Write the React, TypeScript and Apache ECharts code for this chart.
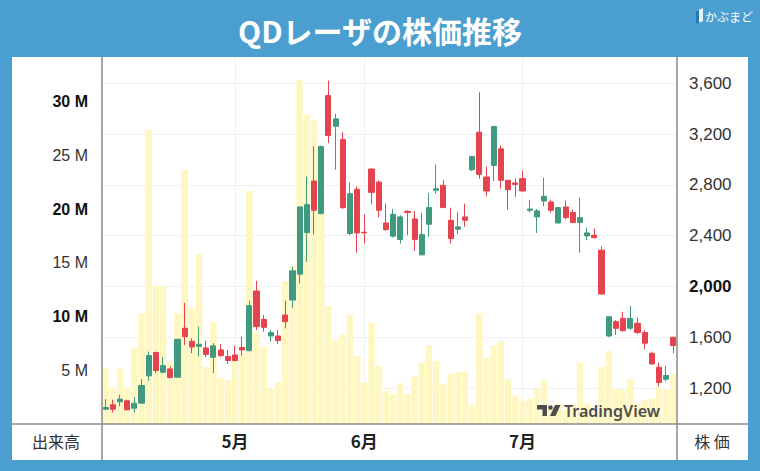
import React, { useEffect, useRef } from "react";
import * as echarts from "echarts";

// Trading days (Apr 6 – Aug 3, 2021)
const dates = [
  "2021-04-06","2021-04-07","2021-04-08","2021-04-09","2021-04-12","2021-04-13","2021-04-14","2021-04-15","2021-04-16","2021-04-19",
  "2021-04-20","2021-04-21","2021-04-22","2021-04-23","2021-04-26","2021-04-27","2021-04-28","2021-04-30",
  "2021-05-06","2021-05-07","2021-05-10","2021-05-11","2021-05-12","2021-05-13","2021-05-14","2021-05-17","2021-05-18","2021-05-19",
  "2021-05-20","2021-05-21","2021-05-24","2021-05-25","2021-05-26","2021-05-27","2021-05-28","2021-05-31",
  "2021-06-01","2021-06-02","2021-06-03","2021-06-04","2021-06-07","2021-06-08","2021-06-09","2021-06-10","2021-06-11","2021-06-14",
  "2021-06-15","2021-06-16","2021-06-17","2021-06-18","2021-06-21","2021-06-22","2021-06-23","2021-06-24","2021-06-25","2021-06-28",
  "2021-06-29","2021-06-30",
  "2021-07-01","2021-07-02","2021-07-05","2021-07-06","2021-07-07","2021-07-08","2021-07-09","2021-07-12","2021-07-13","2021-07-14",
  "2021-07-15","2021-07-16","2021-07-19","2021-07-20","2021-07-21","2021-07-26","2021-07-27","2021-07-28","2021-07-29","2021-07-30",
  "2021-08-02","2021-08-03",
];

const opens = [
  1034,1068,1092,1100,1042,1081,1296,1480,1325,1351,
  1286,1671,1568,1529,1516,1443,1500,1448,1461,1519,
  1495,1964,1741,1610,1610,1775,1893,2097,2424,2830,
  2574,3503,3262,3158,2417,2765,2427,2925,2822,2500,
  2396,2370,2592,2532,2249,2490,2757,2796,2521,2451,
  2548,2919,3215,2862,2953,3084,2836,2815,2849,2600,
  2548,2673,2665,2500,2626,2582,2503,2398,2404,2286,
  1610,1723,1749,1671,1710,1637,1474,1364,1270,1600,
];
const closes = [
  1047,1034,1113,1029,1081,1220,1456,1338,1377,1283,
  1584,1605,1524,1545,1464,1532,1456,1417,1417,1500,
  1849,1684,1678,1637,1574,1723,2123,2626,2644,2600,
  3103,3189,3320,2621,2731,2422,2422,2741,2600,2448,
  2568,2548,2582,2370,2409,2621,2770,2621,2377,2469,
  2521,3024,2883,2752,3260,2836,2762,2804,2752,2610,
  2595,2710,2600,2621,2542,2503,2542,2422,2385,1940,
  1762,1671,1652,1749,1637,1553,1390,1244,1299,1535,
];
const lows = [
  1029,1008,1055,1024,1008,1076,1257,1317,1317,1278,
  1280,1540,1474,1448,1443,1317,1443,1390,1409,1456,
  1487,1657,1644,1566,1547,1671,1833,2024,2194,2409,
  2568,3129,2919,2610,2404,2265,2338,2647,2542,2438,
  2385,2338,2404,2281,2245,2390,2731,2618,2338,2412,
  2469,2909,2849,2710,2830,2770,2605,2705,2748,2584,
  2422,2631,2579,2495,2527,2500,2265,2364,2377,1938,
  1600,1618,1644,1657,1626,1506,1383,1212,1252,1474,
];
const highs = [
  1113,1108,1147,1108,1129,1270,1487,1487,1443,1370,
  1589,1872,1592,1684,1571,1553,1547,1500,1532,1605,
  1888,2045,1775,1657,1657,1888,2155,2630,2867,3103,
  3108,3621,3359,3215,2820,2788,2568,2930,2836,2652,
  2610,2561,2600,2595,2579,2736,2961,2836,2621,2587,
  2652,3028,3529,2945,3263,3110,2840,2849,2914,2679,
  2610,2857,2684,2624,2678,2605,2699,2464,2456,2317,
  1767,1736,1801,1846,1757,1657,1487,1401,1375,1605,
];
// volume in millions of shares
const volumes = [
  5.2,3.4,5.15,3.4,7.1,10.3,27.4,12.9,12.8,5.8,
  10.3,23.7,10.8,15.8,5.3,9.5,4.25,4.1,6.3,6.6,
  21.7,8.5,7.2,3.3,3.9,13.3,14.7,32.0,28.8,28.3,
  19.6,11.0,7.8,8.3,10.2,6.3,3.85,9.4,5.4,3.07,
  2.8,3.8,2.8,4.4,5.7,7.3,5.9,3.7,4.6,4.85,
  4.85,1.8,10.3,6.2,7.3,7.7,4.2,2.65,2.15,2.35,
  3.3,4.1,1.6,1.9,1.3,1.9,5.7,1.9,1.0,5.3,
  6.8,3.25,3.2,4.2,1.9,2.2,2.4,3.4,3.2,4.65,
];

const priceTicks = [1200, 1600, 2000, 2400, 2800, 3200, 3600];
const boldPriceTicks = [2000];
const boldVolumeTicks = [10, 20, 30];
const monthStarts = ["2021-05-06", "2021-06-01", "2021-07-01"];
const monthLabels = ["5月", "6月", "7月"];

const TITLE = "QDレーザの株価推移";
const BRAND = "かぶまど";

const GREEN = "#3f9a7f";
const RED = "#e5434e";
const VOL = "#fff7c2";
const BLUE = "#4a9ed0";
const GRID = "#f0f0f0";
const FRAME = "#8a8a8a";
const WM = "#4d4d4d";
const FONT = '"Liberation Sans", Arial, "Noto Sans CJK JP", sans-serif';
const JFONT = '"Noto Sans CJK JP", sans-serif';

export default function App() {
  const ref = useRef<HTMLDivElement>(null);
  useEffect(() => {
    if (!ref.current) return;
    const chart = echarts.init(ref.current, undefined, { renderer: "svg" });
    const candles = dates.map((_, i) => [opens[i], closes[i], lows[i], highs[i]]);
    const isMonth = (_i: number, v: string) => monthStarts.indexOf(v) >= 0;
    const option: any = {
      animation: false,
      backgroundColor: BLUE,
      grid: { left: 102, right: 83, top: 57, bottom: 47, containLabel: false, outerBoundsMode: "none" },
      xAxis: {
        type: "category",
        data: dates,
        boundaryGap: true,
        axisLine: { show: false },
        axisTick: { show: false },
        axisLabel: {
          interval: isMonth,
          formatter: (v: string) => {
            const k = monthStarts.indexOf(v);
            return k >= 0 ? monthLabels[k] : "";
          },
          fontSize: 17,
          fontWeight: "bold",
          color: "#222",
          fontFamily: JFONT,
          margin: 8,
        },
        splitLine: {
          show: true,
          interval: isMonth,
          alignWithLabel: true,
          lineStyle: { color: GRID, width: 1 },
        },
      },
      yAxis: [
        {
          type: "value",
          position: "left",
          min: 0,
          max: 34.17,
          interval: 5,
          axisLine: { show: false },
          axisTick: { show: false },
          splitLine: { show: false },
          axisLabel: {
            showMinLabel: false,
            showMaxLabel: false,
            margin: 14,
            formatter: (v: number) =>
              boldVolumeTicks.indexOf(v) >= 0 ? `{b|${v} M}` : `{n|${v} M}`,
            rich: {
              b: { fontSize: 16, fontWeight: "bold", color: "#111", fontFamily: FONT },
              n: { fontSize: 16, color: "#333", fontFamily: FONT },
            },
          },
        },
        {
          type: "value",
          position: "right",
          min: 917,
          max: 3807,
          axisLine: { show: false },
          axisTick: { show: false, customValues: priceTicks },
          splitLine: { show: true, lineStyle: { color: GRID, width: 1 } },
          axisLabel: {
            customValues: priceTicks,
            margin: 12,
            formatter: (v: number) => {
              const s = v.toLocaleString("en-US");
              return boldPriceTicks.indexOf(v) >= 0 ? `{b|${s}}` : `{n|${s}}`;
            },
            rich: {
              b: { fontSize: 17, fontWeight: "bold", color: "#111", fontFamily: FONT },
              n: { fontSize: 17, color: "#333", fontFamily: FONT },
            },
          },
        },
      ],
      series: [
        {
          type: "bar",
          name: "出来高",
          data: volumes,
          yAxisIndex: 0,
          barCategoryGap: "10%",
          itemStyle: { color: VOL },
          silent: true,
        },
        {
          type: "candlestick",
          name: "株価",
          data: candles,
          yAxisIndex: 1,
          barWidth: "78%",
          itemStyle: {
            color: GREEN,
            color0: RED,
            borderColor: GREEN,
            borderColor0: RED,
            borderWidth: 1,
          },
        },
      ],
      graphic: [
        { type: "rect", z: -10, shape: { x: 12, y: 57, width: 736, height: 403 }, style: { fill: "#ffffff" } },
        {
          type: "text",
          x: 380,
          y: 30,
          z: 100,
          style: {
            text: TITLE,
            fill: "#ffffff",
            fontSize: 30,
            fontWeight: "bold",
            fontFamily: JFONT,
            align: "center",
            verticalAlign: "middle",
          },
        },
        {
          type: "polygon",
          z: 100,
          shape: { points: [[696, 11], [703, 8], [703, 21], [696, 24]] },
          style: { fill: "#e8f3fb" },
        },
        {
          type: "polygon",
          z: 101,
          shape: { points: [[696, 11], [699, 10], [699, 23], [696, 24]] },
          style: { fill: "#2a78b3" },
        },
        {
          type: "text",
          x: 705,
          y: 16,
          z: 100,
          style: { text: BRAND, fill: "#ffffff", fontSize: 12, fontFamily: JFONT, verticalAlign: "middle" },
        },
        { type: "line", z: 100, shape: { x1: 102, y1: 57, x2: 102, y2: 460 }, style: { stroke: FRAME, lineWidth: 1.5 } },
        { type: "line", z: 100, shape: { x1: 677, y1: 57, x2: 677, y2: 460 }, style: { stroke: FRAME, lineWidth: 1.5 } },
        { type: "line", z: 100, shape: { x1: 12, y1: 424, x2: 748, y2: 424 }, style: { stroke: FRAME, lineWidth: 1.5 } },
        {
          type: "text",
          x: 56,
          y: 441,
          z: 100,
          style: { text: "出来高", fill: "#333", fontSize: 16, fontFamily: JFONT, align: "center", verticalAlign: "middle" },
        },
        {
          type: "text",
          x: 712,
          y: 441,
          z: 100,
          style: { text: "株 価", fill: "#333", fontSize: 16, fontFamily: JFONT, align: "center", verticalAlign: "middle" },
        },
        // TradingView watermark
        { type: "polygon", z: 100, shape: { points: [[537, 405], [547, 405], [547, 416], [542.5, 416], [542.5, 409.5], [537, 409.5]] }, style: { fill: WM } },
        { type: "circle", z: 100, shape: { cx: 550.5, cy: 407.5, r: 2.3 }, style: { fill: WM } },
        { type: "polygon", z: 100, shape: { points: [[555, 405], [560.5, 405], [555.5, 416], [550, 416]] }, style: { fill: WM } },
        {
          type: "text",
          x: 564,
          y: 411,
          z: 100,
          style: { text: "TradingView", fill: WM, fontSize: 16, fontWeight: 600, fontFamily: '"Noto Sans", sans-serif', verticalAlign: "middle" },
        },
      ],
    };
    chart.setOption(option);
    return () => chart.dispose();
  }, []);
  return (
    <div
      ref={ref}
      style={{ position: "fixed", left: 0, top: 0, width: 760, height: 471 }}
    />
  );
}
